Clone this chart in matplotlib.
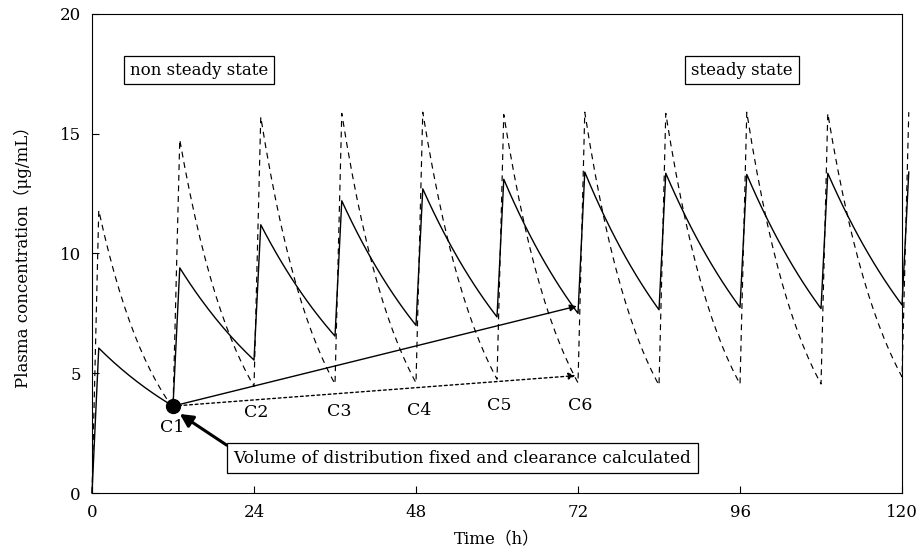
import numpy as np
import matplotlib.pyplot as plt

plt.rcParams['font.family'] = ['DejaVu Serif', 'Noto Sans CJK JP']

# dosing every 12 h, 1 h rise then first-order decay
dose_times = [0, 12, 24, 36, 48, 60, 72, 84, 96, 108, 120]
rise_time = 1.0

solid_trough = [0.0, 3.63, 5.55, 6.55, 7.0, 7.35, 7.5, 7.65, 7.75, 7.7, 7.85]
solid_peak = [6.05, 9.4, 11.2, 12.2, 12.7, 13.1, 13.4, 13.35, 13.3, 13.35, 13.4]
dashed_trough = [0.0, 3.55, 4.45, 4.55, 4.6, 4.75, 4.6, 4.5, 4.55, 4.55, 4.85]
dashed_peak = [11.8, 14.75, 15.7, 15.85, 15.9, 15.8, 15.9, 15.85, 15.9, 15.85, 15.9]

c_labels = ['C1', 'C2', 'C3', 'C4', 'C5', 'C6']
c_label_x = [11.9, 24.4, 36.6, 48.5, 60.3, 72.3]
c_label_y = [2.75, 3.35, 3.4, 3.45, 3.65, 3.65]

c1 = (12, 3.63)
solid_arrow_end = (71.8, 7.8)
dotted_arrow_end = (71.6, 4.9)


def build_curve(troughs, peaks):
    t, c = [], []
    for i, t0 in enumerate(dose_times):
        t += [t0, t0 + rise_time]
        c += [troughs[i], peaks[i]]
        if i + 1 < len(dose_times):
            td = np.linspace(t0 + rise_time, dose_times[i + 1], 30)[1:]
            cd = np.geomspace(peaks[i], troughs[i + 1], 30)[1:]
            t += list(td)
            c += list(cd)
    return np.array(t), np.array(c)


fig = plt.figure(figsize=(9.21, 5.57), dpi=100)
ax = fig.add_axes([0.0999, 0.1149, 0.8795, 0.860])

ts, cs = build_curve(solid_trough, solid_peak)
td, cd = build_curve(dashed_trough, dashed_peak)
ax.plot(td, cd, color='black', lw=0.85, dashes=(5, 4), clip_on=False)
ax.plot(ts, cs, color='black', lw=1.0, clip_on=False)

ax.annotate('', xy=solid_arrow_end, xytext=c1,
            arrowprops=dict(arrowstyle='-|>', color='black', lw=1.0,
                            mutation_scale=10, shrinkA=0, shrinkB=0))
ax.annotate('', xy=dotted_arrow_end, xytext=c1,
            arrowprops=dict(arrowstyle='-|>', color='black', lw=1.0,
                            linestyle=(0, (2, 2)),
                            mutation_scale=10, shrinkA=0, shrinkB=0))
ax.plot(*c1, 'o', color='black', ms=10, zorder=5)

for lab, x, y in zip(c_labels, c_label_x, c_label_y):
    ax.text(x, y, lab, ha='center', va='center', fontsize=12.5)

box = dict(boxstyle='square,pad=0.35', fc='white', ec='black', lw=0.9)
ax.text(15.9, 17.66, 'non steady state', ha='center', va='center',
        fontsize=12, bbox=box)
ax.text(96.3, 17.66, 'steady state', ha='center', va='center',
        fontsize=12, bbox=box)
ax.annotate('Volume of distribution fixed and clearance calculated',
            xy=(13.0, 3.3), xytext=(54.9, 1.45), ha='center', va='center',
            fontsize=12.2, bbox=dict(boxstyle='square,pad=0.38', fc='white',
                                     ec='black', lw=0.9),
            arrowprops=dict(arrowstyle='-|>,head_length=0.55,head_width=0.28',
                            color='black', lw=2.2, shrinkA=0, shrinkB=0,
                            relpos=(0.0, 1.0), mutation_scale=14))

ax.set_xlim(0, 120)
ax.set_ylim(0, 20)
ax.set_xticks([0, 24, 48, 72, 96, 120])
ax.set_yticks([0, 5, 10, 15, 20])
ax.tick_params(direction='in', length=5, labelsize=12, pad=8)
ax.set_xlabel('Time（h）', fontsize=12, labelpad=7)
ax.set_ylabel('Plasma concentration（μg/mL）', fontsize=12, labelpad=20)

fig.savefig('out.png', dpi=100)
